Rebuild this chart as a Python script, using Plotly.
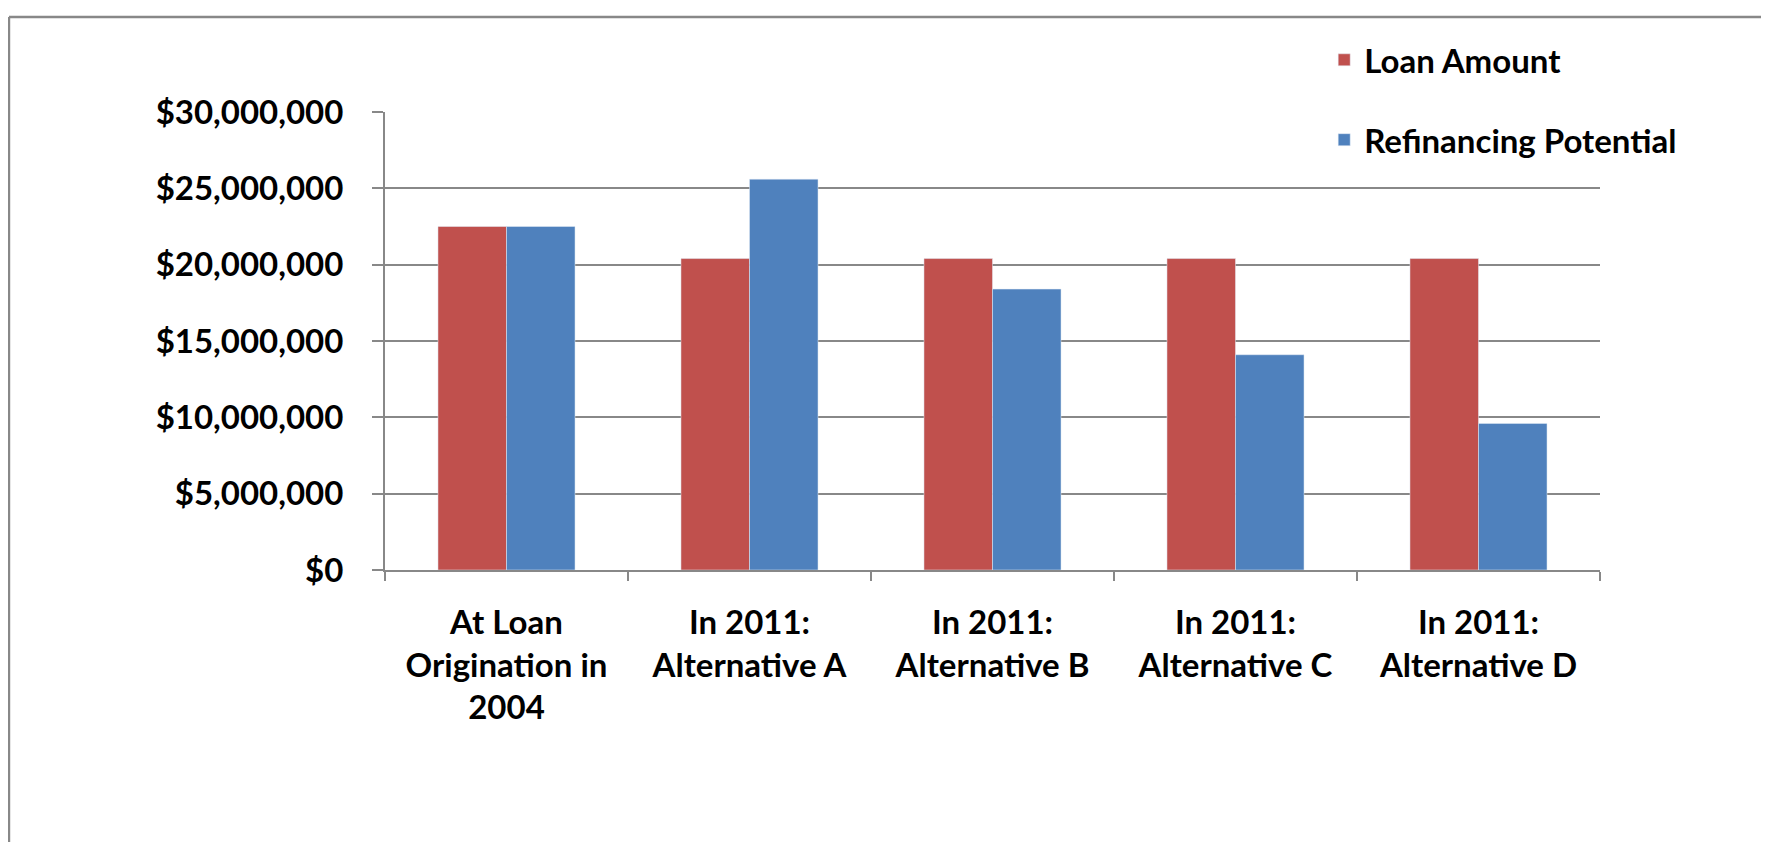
import plotly.graph_objects as go

# categories (x axis) and the two series, in dollars
categories = [
    "At Loan<br>Origination in<br>2004",
    "In 2011:<br>Alternative A",
    "In 2011:<br>Alternative B",
    "In 2011:<br>Alternative C",
    "In 2011:<br>Alternative D",
]
loan_amount = [22500000, 20400000, 20400000, 20400000, 20400000]
refi_potential = [22500000, 25600000, 18400000, 14100000, 9600000]
y_ticks = [0, 5000000, 10000000, 15000000, 20000000, 25000000, 30000000]

RED = "#C0504D"
BLUE = "#4F81BD"
GRID = "#888888"
FONT = dict(family="Lato, Carlito, sans-serif", size=33, color="black", weight="bold")

fig = go.Figure()
fig.add_trace(go.Bar(x=categories, y=loan_amount, name="Loan Amount",
                     marker_color=RED, legendgroup="a"))
fig.add_trace(go.Bar(x=categories, y=refi_potential, name="Refinancing Potential",
                     marker_color=BLUE, legendgroup="b"))

# page body has an 8px margin, so the figure is a bit smaller than the window
fig.update_layout(
    width=1761, height=834,
    margin=dict(l=377, r=169, t=104, b=272),
    paper_bgcolor="white", plot_bgcolor="white",
    barmode="group", bargap=0.436, bargroupgap=0,
    font=FONT,
    showlegend=True,
    legend=dict(x=0.773, y=1.175, xanchor="left", yanchor="top",
                bgcolor="white", font=FONT, tracegroupgap=34),
)

fig.update_yaxes(
    range=[0, 30000000], tickvals=y_ticks,
    tickformat="$,.0f",
    showgrid=True, gridcolor=GRID, gridwidth=2,
    showline=True, linecolor=GRID, linewidth=2,
    ticks="outside", ticklen=11, tickcolor=GRID, tickwidth=2,
    zeroline=False, ticklabelstandoff=22, tickfont=FONT,
)
fig.update_xaxes(
    showline=True, linecolor=GRID, linewidth=2,
    ticks="outside", tickson="boundaries", ticklen=9, tickcolor=GRID, tickwidth=2,
    showgrid=False, tickfont=FONT, ticklabelstandoff=22,
)

# outer chart frame (left and top edges are visible in the original)
fig.add_shape(type="line", xref="paper", yref="paper", x0=-0.3095, x1=-0.3095, y0=-0.7, y1=1.2074,
              line=dict(color=GRID, width=2.5))
fig.add_shape(type="line", xref="paper", yref="paper", x0=-0.3095, x1=1.2, y0=1.2074, y1=1.2074,
              line=dict(color=GRID, width=2.5))

fig.write_html("out.html")
